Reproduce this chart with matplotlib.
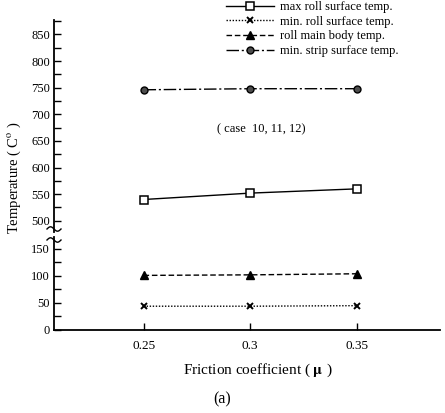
import numpy as np
import matplotlib
matplotlib.use("Agg")
import matplotlib.pyplot as plt
from matplotlib.ticker import MultipleLocator

plt.rcParams['font.family'] = ['Liberation Serif', 'DejaVu Serif']
plt.rcParams['mathtext.fontset'] = 'stix'

mu = [0.25, 0.30, 0.35]
xtick_labels = ['0.25', '0.3', '0.35']
max_roll = [540, 552, 560]
min_roll = [44, 44, 45]
roll_body = [101, 102, 104]
min_strip = [746, 748, 748]
labels = ['max roll surface temp.', 'min. roll surface temp.',
          'roll main body temp.', 'min. strip surface temp.']

W, H = 445, 413
fig = plt.figure(figsize=(W/100, H/100), dpi=100)

def fx(px): return px / W
def fy(py): return 1 - py / H

left = fx(54); width = fx(440) - fx(54)
ax_lo = fig.add_axes([left, fy(330), width, fy(237) - fy(330)])
ax_hi = fig.add_axes([left, fy(232), width, fy(20) - fy(232)])

styles = [
    dict(ls='-', marker='s', mfc='white', mec='black', ms=5.5, mew=1.1),
    dict(ls=(0, (1, 1.2)), marker='x', mfc='black', mec='black', ms=5, mew=1.4),
    dict(ls=(0, (4, 2)), marker='^', mfc='black', mec='black', ms=6),
    dict(ls=(0, (9, 2, 1.5, 2)), marker='o', mfc='0.3', mec='black', ms=5, mew=1.0),
]
series = [max_roll, min_roll, roll_body, min_strip]
handles = []
for i, (vals, st) in enumerate(zip(series, styles)):
    target = ax_hi if np.mean(vals) > 300 else ax_lo
    h, = target.plot(mu, vals, color='black', lw=1.0, **st)
    handles.append(h)

for ax in (ax_lo, ax_hi):
    ax.set_xlim(0.208, 0.389)
    ax.spines['top'].set_visible(False)
    ax.spines['right'].set_visible(False)
    ax.yaxis.set_major_locator(MultipleLocator(50))
    ax.yaxis.set_minor_locator(MultipleLocator(25))
    ax.tick_params(axis='y', which='major', direction='in', length=5, width=1, labelsize=9, pad=3)
    ax.tick_params(axis='y', which='minor', direction='in', length=5, width=1)
    ax.spines['left'].set_linewidth(1.3)
    ax.patch.set_alpha(0)

ax_lo.set_ylim(0, 172)
ax_hi.set_ylim(479, 877)
ax_hi.spines['bottom'].set_visible(False)
ax_hi.set_xticks([])
ax_lo.set_xticks(mu)
ax_lo.set_xticklabels(xtick_labels)
ax_lo.tick_params(axis='x', direction='in', length=5, width=1, labelsize=9.5, pad=7)
ax_lo.spines['bottom'].set_linewidth(1.3)

# break marks
t = np.linspace(-7, 7, 40)
for yb in (229, 240):
    fig.lines.append(plt.Line2D(fx(54 + t), fy(yb + 2.2 * np.sin(t / 7 * np.pi)),
                                transform=fig.transFigure, color='black', lw=1.0))

ax_hi.text(0.305, 671, '( case  10, 11, 12)', ha='center', va='center', fontsize=9)

fig.text(fx(14), fy(178), 'Temperature ( C$^{\\rm o}$ )', rotation=90,
         ha='center', va='center', fontsize=10.5)
fig.text(fx(258), fy(370), 'Friction coefficient ( $\\mathbf{\\mu}$ )',
         ha='center', va='center', fontsize=11)
fig.text(fx(222), fy(399), '(a)', ha='center', va='center', fontsize=11.5)

fig.legend(handles, labels, loc='upper left', bbox_to_anchor=(fx(226), fy(1)),
           frameon=False, fontsize=9, handlelength=3.8, handletextpad=0.5,
           labelspacing=0.22, borderpad=0, borderaxespad=0)

fig.savefig('out.png', dpi=100)
